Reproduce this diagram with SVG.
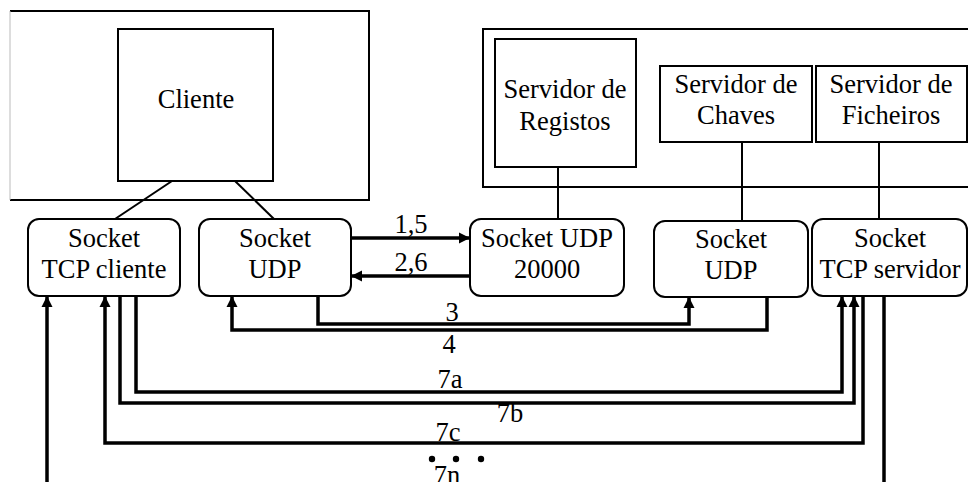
<svg xmlns="http://www.w3.org/2000/svg" width="968" height="482" viewBox="0 0 968 482" font-family="Liberation Serif, Times New Roman, DejaVu Serif, serif">
<style>
.box{fill:#fff;stroke:#000;stroke-width:2}
.frame{fill:none;stroke:#000;stroke-width:2}
.thin{fill:none;stroke:#000;stroke-width:2}
.arr{fill:none;stroke:#000;stroke-width:3.5}
text{font-size:26.5px;fill:#000;text-anchor:middle}
</style>
<defs>
<marker id="ah" markerUnits="userSpaceOnUse" markerWidth="12" markerHeight="12" refX="11" refY="6" orient="auto">
<path d="M0,0.5 L11,6 L0,11.5 z" fill="#000"/>
</marker>
</defs>
<g id="client-host">
<path class="frame" d="M10,11 H369 V200 H10"/>
<path d="M10,11 V200" fill="none" stroke="#bbb" stroke-width="1"/>
</g>
<g id="server-host">
<path class="frame" d="M970,29 H483 V187 H970"/>
</g>
<g id="connectors">
<line class="thin" x1="172" y1="181" x2="115" y2="219"/>
<line class="thin" x1="235" y1="181" x2="274" y2="219"/>
<line class="thin" x1="558" y1="167" x2="558" y2="219"/>
<line class="thin" x1="742" y1="142" x2="742" y2="221"/>
<line class="thin" x1="879" y1="142" x2="879" y2="219"/>
<path class="arr" d="M351,238 H470" marker-end="url(#ah)"/>
<path class="arr" d="M470,276 H351" marker-end="url(#ah)"/>
<path class="arr" d="M318,296 V324 H689 V297" marker-end="url(#ah)"/>
<path class="arr" d="M767,294 V330 H232 V296" marker-end="url(#ah)"/>
<path class="arr" d="M136,296 V392 H842 V296" marker-end="url(#ah)"/>
<path class="arr" d="M120,296 V403 H854 V296" marker-end="url(#ah)"/>
<path class="arr" d="M863,296 V443 H105 V296" marker-end="url(#ah)"/>
<path class="arr" d="M47,484 V296" marker-end="url(#ah)"/>
<path class="arr" d="M884,293 V484"/>
<circle cx="432" cy="459" r="3.2" fill="#000"/>
<circle cx="456" cy="459" r="3.2" fill="#000"/>
<circle cx="481" cy="459" r="3.2" fill="#000"/>
<text x="411" y="233">1,5</text>
<text x="411" y="271">2,6</text>
<text x="452" y="321">3</text>
<text x="449" y="353">4</text>
<text x="450" y="388">7a</text>
<text x="510" y="422">7b</text>
<text x="448" y="441">7c</text>
<text x="447" y="484">7n</text>
</g>
<g id="cliente">
<rect class="box" x="118" y="29" width="155" height="152"/>
<text x="196" y="108">Cliente</text>
</g>
<g id="servidor-registos">
<rect class="box" x="495" y="39" width="141" height="128"/>
<text x="565" y="98">Servidor de</text>
<text x="565" y="130">Registos</text>
</g>
<g id="servidor-chaves">
<rect class="box" x="660" y="66" width="152" height="76"/>
<text x="736" y="93">Servidor de</text>
<text x="736" y="124">Chaves</text>
</g>
<g id="servidor-ficheiros">
<rect class="box" x="816" y="66" width="151" height="76"/>
<text x="891" y="93">Servidor de</text>
<text x="891" y="124">Ficheiros</text>
</g>
<g id="socket-tcp-cliente">
<rect class="box" x="28" y="219" width="152" height="77" rx="11"/>
<text x="104" y="247">Socket</text>
<text x="104" y="278">TCP cliente</text>
</g>
<g id="socket-udp-cliente">
<rect class="box" x="199" y="219" width="152" height="77" rx="11"/>
<text x="275" y="247">Socket</text>
<text x="275" y="278">UDP</text>
</g>
<g id="socket-udp-20000">
<rect class="box" x="470" y="219" width="154" height="77" rx="11"/>
<text x="547" y="247">Socket UDP</text>
<text x="547" y="278">20000</text>
</g>
<g id="socket-udp-chaves">
<rect class="box" x="654" y="221" width="154" height="76" rx="11"/>
<text x="731" y="248">Socket</text>
<text x="731" y="279">UDP</text>
</g>
<g id="socket-tcp-servidor">
<rect class="box" x="812" y="219" width="155" height="77" rx="11"/>
<text x="890" y="247">Socket</text>
<text x="890" y="278">TCP servidor</text>
</g>
</svg>
